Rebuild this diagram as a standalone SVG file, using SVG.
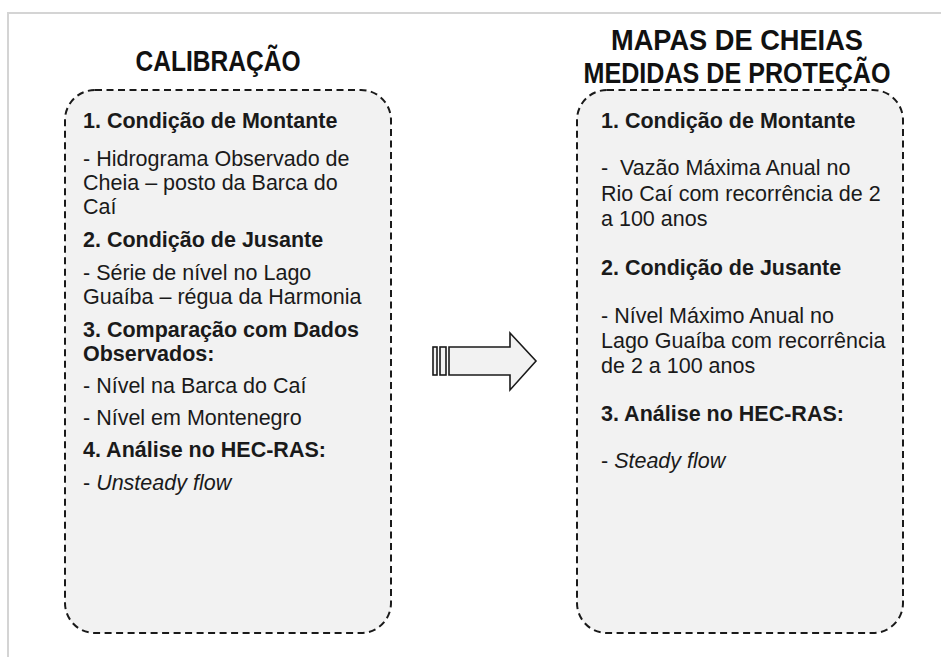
<svg xmlns="http://www.w3.org/2000/svg" width="941" height="657" viewBox="0 0 941 657">
<style>
.frame{fill:none;stroke:#d4d4d4;stroke-width:2}
.box{fill:#f2f2f2;stroke:#1a1a1a;stroke-width:2;stroke-dasharray:7 4.5}
.title{font-family:"Liberation Sans",Arial,sans-serif;font-weight:bold;font-size:29px;fill:#111;text-anchor:middle}
.t{font-family:"Liberation Sans",Arial,sans-serif;font-size:21.5px;fill:#1a1a1a}
.b{font-weight:bold}
.i{font-style:italic}
.arrow{fill:#f2f2f2;stroke:#1a1a1a;stroke-width:1.6}
</style>
<polyline class="frame" points="8,657 8,13 941,13"/>
<text class="title" x="218" y="71" textLength="165" lengthAdjust="spacingAndGlyphs">CALIBRAÇÃO</text>
<text class="title" x="737" y="50" textLength="252" lengthAdjust="spacingAndGlyphs">MAPAS DE CHEIAS</text>
<text class="title" x="737" y="83" textLength="307" lengthAdjust="spacingAndGlyphs">MEDIDAS DE PROTEÇÃO</text>
<g id="calibracao">
<rect class="box" x="65" y="90" width="326" height="543" rx="30" ry="30"/>
<text class="t b" x="83" y="128">1. Condição de Montante</text>
<text class="t" x="83" y="166">- Hidrograma Observado de</text>
<text class="t" x="83" y="190">Cheia – posto da Barca do</text>
<text class="t" x="83" y="214">Caí</text>
<text class="t b" x="83" y="247">2. Condição de Jusante</text>
<text class="t" x="83" y="280">- Série de nível no Lago</text>
<text class="t" x="83" y="304">Guaíba – régua da Harmonia</text>
<text class="t b" x="83" y="337">3. Comparação com Dados</text>
<text class="t b" x="83" y="361">Observados:</text>
<text class="t" x="83" y="393">- Nível na Barca do Caí</text>
<text class="t" x="83" y="425">- Nível em Montenegro</text>
<text class="t b" x="83" y="457">4. Análise no HEC-RAS:</text>
<text class="t" x="83" y="490">- <tspan class="i">Unsteady flow</tspan></text>
</g>
<g id="connectors">
<g id="arrow">
<rect class="arrow" x="433" y="347" width="4" height="28"/>
<rect class="arrow" x="440" y="347" width="6" height="28"/>
<polygon class="arrow" points="449,347 510,347 510,333 536,361 510,390 510,375 449,375"/>
</g>
</g>
<g id="mapas">
<rect class="box" x="577" y="90" width="326" height="543" rx="30" ry="30"/>
<text class="t b" x="601" y="128">1. Condição de Montante</text>
<text class="t" x="601" y="175" xml:space="preserve">-  Vazão Máxima Anual no</text>
<text class="t" x="601" y="201">Rio Caí com recorrência de 2</text>
<text class="t" x="601" y="226">a 100 anos</text>
<text class="t b" x="601" y="275">2. Condição de Jusante</text>
<text class="t" x="601" y="323">- Nível Máximo Anual no</text>
<text class="t" x="601" y="348">Lago Guaíba com recorrência</text>
<text class="t" x="601" y="373">de 2 a 100 anos</text>
<text class="t b" x="601" y="421">3. Análise no HEC-RAS:</text>
<text class="t" x="601" y="468">- <tspan class="i">Steady flow</tspan></text>
</g>
</svg>
